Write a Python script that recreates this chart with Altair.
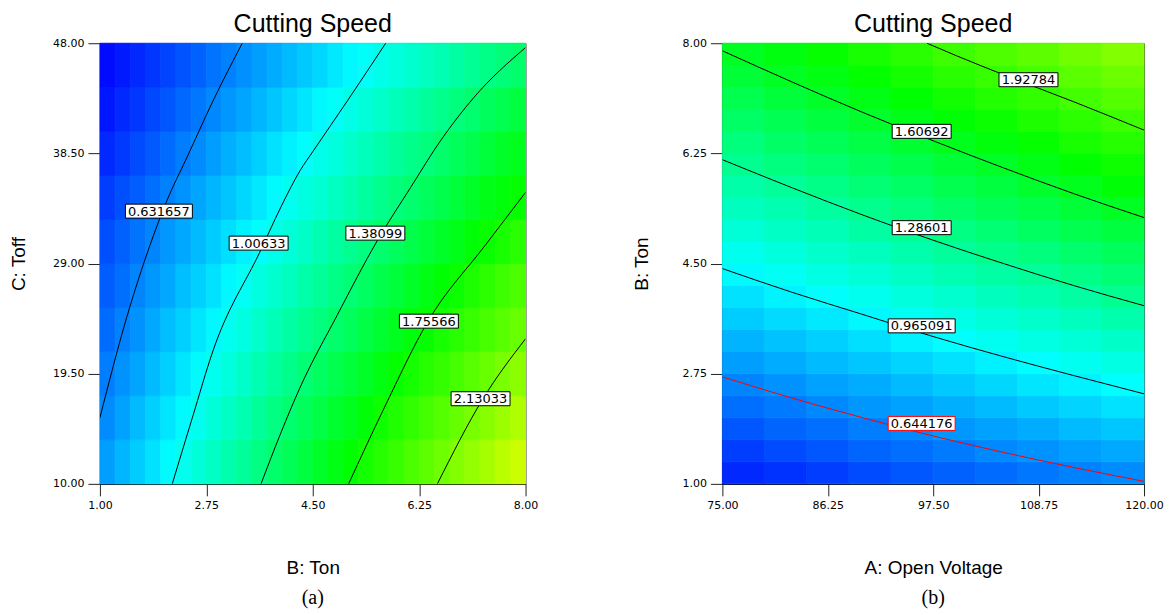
import altair as alt
import numpy as np
import pandas as pd

# ---------------- panel (a): B: Ton (x) vs C: Toff (y) ----------------
A_TON_RANGE = [1.0, 8.0]
A_TOFF_RANGE = [10.0, 48.0]
A_TON_TICKS = [1.00, 2.75, 4.50, 6.25, 8.00]
A_TOFF_TICKS = [10.00, 19.50, 29.00, 38.50, 48.00]

# cutting speed; rows from Toff=10 (bottom) to Toff=48 (top),
# 28 columns from Ton=1 to Ton=8
A_SURFACE = [
    [0.71, 0.78, 0.84, 0.90, 0.97, 1.03, 1.09, 1.15, 1.22, 1.28, 1.34, 1.41, 1.47, 1.53, 1.60, 1.66, 1.72, 1.79, 1.85, 1.91, 1.98, 2.04, 2.10, 2.17, 2.23, 2.29, 2.36, 2.42],
    [0.66, 0.72, 0.79, 0.85, 0.91, 0.97, 1.03, 1.09, 1.15, 1.21, 1.28, 1.34, 1.40, 1.46, 1.52, 1.58, 1.64, 1.70, 1.77, 1.83, 1.89, 1.95, 2.01, 2.07, 2.13, 2.19, 2.26, 2.32],
    [0.62, 0.68, 0.73, 0.79, 0.85, 0.91, 0.97, 1.03, 1.08, 1.14, 1.20, 1.26, 1.32, 1.38, 1.44, 1.49, 1.55, 1.61, 1.67, 1.73, 1.79, 1.85, 1.90, 1.96, 2.02, 2.08, 2.14, 2.20],
    [0.57, 0.63, 0.68, 0.74, 0.80, 0.85, 0.91, 0.96, 1.02, 1.07, 1.13, 1.19, 1.24, 1.30, 1.35, 1.41, 1.46, 1.52, 1.58, 1.63, 1.69, 1.74, 1.80, 1.86, 1.91, 1.97, 2.02, 2.08],
    [0.53, 0.58, 0.64, 0.69, 0.74, 0.80, 0.85, 0.90, 0.96, 1.01, 1.07, 1.12, 1.17, 1.23, 1.28, 1.33, 1.39, 1.44, 1.50, 1.55, 1.60, 1.66, 1.71, 1.76, 1.82, 1.87, 1.93, 1.98],
    [0.49, 0.54, 0.59, 0.64, 0.69, 0.74, 0.79, 0.84, 0.89, 0.94, 0.99, 1.04, 1.09, 1.14, 1.20, 1.25, 1.30, 1.35, 1.40, 1.45, 1.50, 1.55, 1.60, 1.65, 1.70, 1.75, 1.80, 1.86],
    [0.44, 0.49, 0.53, 0.58, 0.63, 0.68, 0.73, 0.78, 0.82, 0.87, 0.92, 0.97, 1.02, 1.07, 1.11, 1.16, 1.21, 1.26, 1.31, 1.36, 1.40, 1.45, 1.50, 1.55, 1.60, 1.65, 1.69, 1.74],
    [0.38, 0.43, 0.48, 0.52, 0.57, 0.62, 0.66, 0.71, 0.76, 0.80, 0.85, 0.90, 0.94, 0.99, 1.04, 1.08, 1.13, 1.18, 1.22, 1.27, 1.32, 1.36, 1.41, 1.46, 1.50, 1.55, 1.60, 1.64],
    [0.33, 0.38, 0.42, 0.47, 0.51, 0.56, 0.60, 0.65, 0.69, 0.73, 0.78, 0.82, 0.87, 0.91, 0.96, 1.00, 1.05, 1.09, 1.13, 1.18, 1.22, 1.27, 1.31, 1.36, 1.40, 1.45, 1.49, 1.54],
    [0.30, 0.34, 0.38, 0.42, 0.46, 0.50, 0.54, 0.59, 0.63, 0.67, 0.71, 0.75, 0.79, 0.83, 0.87, 0.92, 0.96, 1.00, 1.04, 1.08, 1.12, 1.16, 1.20, 1.25, 1.29, 1.33, 1.37, 1.41],
]

# contour lines (Ton, Toff)
A_CONTOURS = {
    "0.631657": [(1.00, 15.70), (1.44, 24.35), (1.82, 30.53), (2.10, 34.41), (2.43, 38.14), (2.86, 43.03), (3.34, 48.00)],
    "1.00633": [(2.19, 10.00), (2.52, 15.70), (2.86, 21.48), (3.64, 30.10), (3.97, 33.80), (4.29, 37.00), (4.51, 38.72), (5.07, 43.03), (5.70, 48.00)],
    "1.38099": [(3.65, 10.00), (3.97, 14.32), (4.29, 18.29), (4.90, 24.52), (5.56, 30.96), (6.11, 35.56), (6.60, 39.58), (7.15, 43.32), (8.00, 47.63)],
    "1.75566": [(5.09, 10.00), (5.68, 16.60), (6.40, 24.06), (7.33, 30.53), (8.00, 35.13)],
    "2.13033": [(6.55, 10.00), (7.30, 17.34), (8.00, 22.51)],
}
A_LABELS = ["0.631657", "1.00633", "1.38099", "1.75566", "2.13033"]
A_LABEL_TON = [1.97, 3.61, 5.53, 6.41, 7.26]
A_LABEL_TOFF = [33.52, 30.76, 31.62, 24.03, 17.34]

# ---------------- panel (b): A: Open Voltage (x) vs B: Ton (y) ----------------
B_VOLT_RANGE = [75.0, 120.0]
B_TON_RANGE = [1.0, 8.0]
B_VOLT_TICKS = [75.00, 86.25, 97.50, 108.75, 120.00]
B_TON_TICKS = [1.00, 2.75, 4.50, 6.25, 8.00]

# cutting speed; 10 columns from 75 V to 120 V,
# each listed from Ton=1 (bottom) to Ton=8 (top) in 20 steps
B_SURFACE_COLS = [
    [0.38, 0.44, 0.51, 0.58, 0.64, 0.71, 0.77, 0.84, 0.90, 0.97, 1.03, 1.10, 1.17, 1.23, 1.30, 1.36, 1.43, 1.49, 1.56, 1.62],
    [0.41, 0.48, 0.55, 0.61, 0.68, 0.75, 0.81, 0.88, 0.95, 1.01, 1.08, 1.15, 1.21, 1.28, 1.35, 1.42, 1.48, 1.55, 1.62, 1.68],
    [0.44, 0.51, 0.58, 0.65, 0.72, 0.79, 0.85, 0.92, 0.99, 1.06, 1.13, 1.19, 1.26, 1.33, 1.40, 1.47, 1.54, 1.60, 1.67, 1.74],
    [0.48, 0.55, 0.62, 0.69, 0.75, 0.82, 0.89, 0.96, 1.03, 1.10, 1.17, 1.24, 1.31, 1.38, 1.45, 1.52, 1.59, 1.66, 1.73, 1.80],
    [0.51, 0.58, 0.65, 0.72, 0.79, 0.86, 0.94, 1.01, 1.08, 1.15, 1.22, 1.29, 1.36, 1.43, 1.50, 1.58, 1.65, 1.72, 1.79, 1.86],
    [0.54, 0.61, 0.69, 0.76, 0.83, 0.90, 0.98, 1.05, 1.12, 1.20, 1.27, 1.34, 1.42, 1.49, 1.56, 1.64, 1.71, 1.78, 1.86, 1.93],
    [0.57, 0.65, 0.72, 0.79, 0.87, 0.94, 1.02, 1.09, 1.17, 1.24, 1.32, 1.39, 1.47, 1.54, 1.61, 1.69, 1.76, 1.84, 1.91, 1.99],
    [0.60, 0.68, 0.75, 0.83, 0.91, 0.98, 1.06, 1.13, 1.21, 1.28, 1.36, 1.44, 1.51, 1.59, 1.66, 1.74, 1.82, 1.89, 1.97, 2.04],
    [0.63, 0.71, 0.79, 0.86, 0.94, 1.02, 1.10, 1.17, 1.25, 1.33, 1.41, 1.49, 1.56, 1.64, 1.72, 1.80, 1.87, 1.95, 2.03, 2.11],
    [0.66, 0.74, 0.82, 0.90, 0.98, 1.06, 1.14, 1.22, 1.30, 1.38, 1.46, 1.54, 1.62, 1.70, 1.77, 1.85, 1.93, 2.01, 2.09, 2.17],
]

B_CONTOURS = {
    "0.644176": [(75.0, 2.70), (82.5, 2.36), (90.0, 2.05), (97.5, 1.76), (105.0, 1.50), (112.5, 1.26), (120.0, 1.04)],
    "0.965091": [(75.0, 4.42), (82.5, 4.04), (90.0, 3.69), (97.5, 3.34), (105.0, 3.02), (112.5, 2.72), (120.0, 2.43)],
    "1.28601": [(75.0, 6.15), (82.5, 5.70), (90.0, 5.27), (97.5, 4.87), (105.0, 4.50), (112.5, 4.15), (120.0, 3.83)],
    "1.60692": [(75.0, 7.88), (82.5, 7.38), (90.0, 6.90), (97.5, 6.45), (105.0, 6.02), (112.5, 5.61), (120.0, 5.23)],
    "1.92784": [(96.84, 8.00), (100.0, 7.80), (105.0, 7.50), (112.5, 7.07), (120.0, 6.62)],
}
B_LABELS = ["0.644176", "0.965091", "1.28601", "1.60692", "1.92784"]
B_LABEL_VOLT = [96.27, 96.27, 96.27, 96.27, 107.67]
B_LABEL_TON = [1.96, 3.51, 5.07, 6.60, 7.42]
RED_LEVEL = "0.644176"

# ---------------- shared colour scale (Design-Expert style) ----------------
CSCALE = alt.Scale(domain=[0.27, 0.98, 1.72, 2.60],
                   range=["#0000ff", "#00ffff", "#00ff00", "#ffff00"],
                   interpolate="rgb", clamp=True)


def grid_df(rows, xr, yr):
    nr, nc = len(rows), len(rows[0])
    xe = np.linspace(xr[0], xr[1], nc + 1)
    ye = np.linspace(yr[0], yr[1], nr + 1)
    recs = []
    for r in range(nr):
        for c in range(nc):
            recs.append(dict(x0=xe[c], x1=xe[c + 1], y0=ye[r], y1=ye[r + 1], v=rows[r][c]))
    return pd.DataFrame(recs)


def contour_df(contours):
    recs = []
    for lev, pts in contours.items():
        for i, (x, y) in enumerate(pts):
            recs.append(dict(level=lev, i=i, x=x, y=y, red=int(lev == RED_LEVEL)))
    return pd.DataFrame(recs)


def label_df(labels, xs, ys):
    return pd.DataFrame(dict(label=labels, x=xs, y=ys,
                             n=[len(s) for s in labels],
                             red=[int(s == RED_LEVEL) for s in labels]))


def panel(surf, cont, labs, xr, yr, xticks, yticks, xtitle, ytitle, w, h, ytp, caption):
    xs = alt.Scale(domain=xr, nice=False, zero=False)
    ys = alt.Scale(domain=yr, nice=False, zero=False)
    xaxis = alt.Axis(values=xticks, format=".2f", title=xtitle, titlePadding=48,
                     titleFont="Liberation Sans", titleFontSize=19, labelFlush=False)
    yaxis = alt.Axis(values=yticks, format=".2f", title=ytitle, titlePadding=ytp,
                     titleFont="Liberation Sans", titleFontSize=19, labelFlush=False)
    X = lambda f: alt.X(f, scale=xs, axis=xaxis)
    Y = lambda f: alt.Y(f, scale=ys, axis=yaxis)
    cells = alt.Chart(surf).mark_rect(strokeWidth=0.8).encode(
        x=X("x0:Q"), x2="x1", y=Y("y0:Q"), y2="y1",
        color=alt.Color("v:Q", scale=CSCALE, legend=None),
        stroke=alt.Stroke("v:Q", scale=CSCALE, legend=None),
    )
    lines = alt.Chart(cont).mark_line(strokeWidth=1, clip=True, interpolate="monotone").encode(
        x=X("x:Q"), y=Y("y:Q"),
        detail="level:N", order="i:Q",
        color=alt.condition("datum.red == 1", alt.value("#ff0000"), alt.value("#000000")),
    )
    layers = [cells, lines]
    for n, bw in [(8, 67), (7, 59)]:
        hh = 7.0 / (bw / 2.0)
        shape = f"M-1,-{hh:.4f}H1V{hh:.4f}H-1Z"
        layers.append(
            alt.Chart(labs).transform_filter(f"datum.n == {n}").mark_point(
                shape=shape, size=bw * bw, filled=True, fill="white", strokeWidth=1, opacity=1
            ).encode(
                x=X("x:Q"), y=Y("y:Q"),
                stroke=alt.condition("datum.red == 1", alt.value("#ff0000"), alt.value("#000000")),
            )
        )
    layers.append(
        alt.Chart(labs).mark_text(font="DejaVu Sans", fontSize=13, color="black", dy=0.5).encode(
            x=X("x:Q"), y=Y("y:Q"), text="label:N",
        )
    )
    layers.append(
        alt.Chart(pd.DataFrame(dict(t=[caption]))).mark_text(
            font="Liberation Serif", fontSize=20, color="black", baseline="middle"
        ).encode(text="t:N", x=alt.value(w / 2), y=alt.value(555))
    )
    return alt.layer(*layers).properties(
        width=w, height=h,
        title=alt.TitleParams("Cutting Speed", font="Liberation Sans", fontSize=25,
                              fontWeight="normal", color="black", offset=0, frame="group"),
    )


pa = panel(grid_df(A_SURFACE, A_TON_RANGE, A_TOFF_RANGE), contour_df(A_CONTOURS),
           label_df(A_LABELS, A_LABEL_TON, A_LABEL_TOFF),
           A_TON_RANGE, A_TOFF_RANGE, A_TON_TICKS, A_TOFF_TICKS,
           "B: Ton", "C: Toff", 426, 441, 24, "(a)")

b_rows = [list(r) for r in zip(*B_SURFACE_COLS)]
pb = panel(grid_df(b_rows, B_VOLT_RANGE, B_TON_RANGE), contour_df(B_CONTOURS),
           label_df(B_LABELS, B_LABEL_VOLT, B_LABEL_TON),
           B_VOLT_RANGE, B_TON_RANGE, B_VOLT_TICKS, B_TON_TICKS,
           "A: Open Voltage", "B: Ton", 422, 441, 30, "(b)")

chart = alt.hconcat(pa, pb, spacing=94).properties(
    padding={"left": 1, "top": 3, "right": 0, "bottom": 0}
).configure_view(stroke="#555555", strokeWidth=1).configure_axis(
    grid=False, tickSize=12, tickColor="#222222", domainColor="#000000",
    labelFont="DejaVu Sans", labelFontSize=11, labelColor="#000000", labelPadding=4,
    titleColor="#000000", titleFontWeight="normal",
).configure_title(anchor="middle")

chart.save("out.html", embed_options={"renderer": "svg", "actions": False})
